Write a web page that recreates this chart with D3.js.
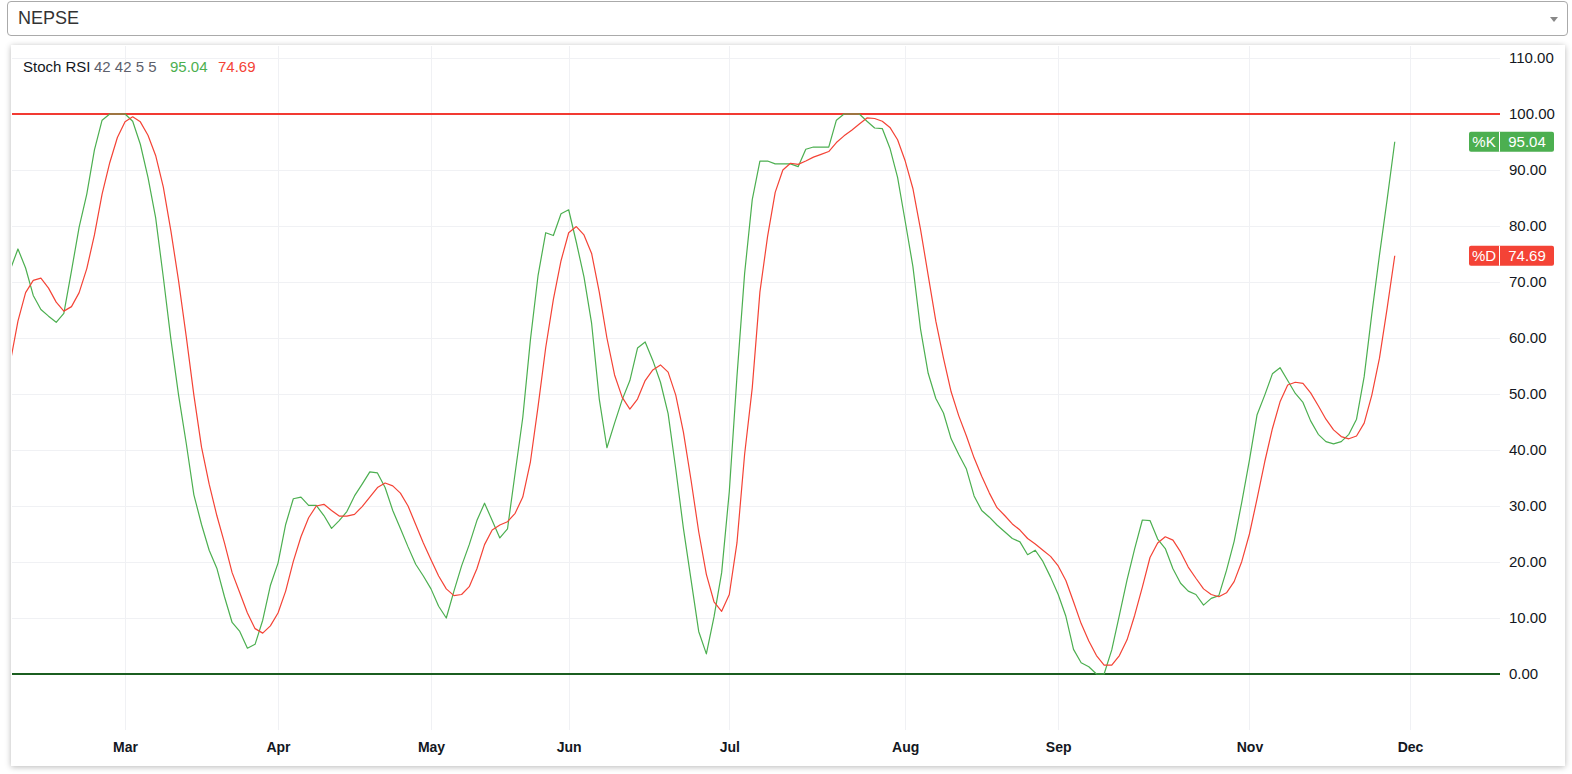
<!DOCTYPE html>
<html>
<head>
<meta charset="utf-8">
<script src="https://cdn.jsdelivr.net/npm/d3@7"></script>
<style>
  html, body { margin:0; padding:0; background:#fff; width:1572px; height:774px; overflow:hidden; }
  body { font-family: "Liberation Sans", Arial, sans-serif; position:relative; }
  #select { position:absolute; left:7px; top:1px; width:1559px; height:33px; border:1px solid #aaa; border-radius:4px; background:#fff; box-sizing:content-box; }
  #select span { position:absolute; left:10px; top:6px; font-size:18px; color:#333; }
  #select .arrow { position:absolute; right:9px; top:15px; width:0; height:0; border-left:4.5px solid transparent; border-right:4.5px solid transparent; border-top:5px solid #888; }
  #panel { position:absolute; left:11px; top:45px; width:1554px; height:721px; background:#fff; box-shadow:0 1px 6px rgba(0,0,0,0.28); }
  svg { position:absolute; left:0; top:0; }
</style>
</head>
<body>
<div id="select"><span>NEPSE</span><div class="arrow"></div></div>
<div id="panel"></div>
<svg id="chart" width="1572" height="774"></svg>
<script>
// ---- data ----
const title = "Stoch RSI";
const params = [42, 42, 5, 5];
const kValues = [
  72.2, 75.9, 72.5, 67.6, 65.1, 63.9, 62.8, 64.4, 72.0, 79.8,
  85.7, 93.6, 98.9, 100, 100, 100, 98.7, 94.6, 88.7, 81.5,
  70.9, 59.7, 49.8, 41.2, 32.0, 26.7, 22.1, 18.9, 13.8, 9.2,
  7.6, 4.6, 5.3, 9.6, 15.8, 19.8, 26.7, 31.3, 31.6, 30.1,
  30.1, 28.3, 26.0, 27.4, 29.0, 31.8, 33.9, 36.1, 35.9, 33.3,
  29.2, 26.0, 22.7, 19.6, 17.5, 15.2, 12.1, 10.0, 14.8, 19.3,
  23.1, 27.4, 30.5, 27.4, 24.3, 25.9, 35.9, 45.8, 59.7, 71.2,
  78.8, 78.3, 82.2, 82.9, 77.1, 70.9, 62.6, 49.1, 40.4, 44.8,
  49.0, 52.4, 58.2, 59.3, 56.0, 52.1, 46.5, 36.6, 26.0, 16.8,
  7.6, 3.6, 10.2, 18.1, 32.6, 53.1, 71.5, 84.7, 91.6, 91.6,
  91.1, 91.1, 91.1, 90.6, 93.7, 94.1, 94.1, 94.1, 98.9, 100,
  100, 100, 98.7, 97.5, 97.4, 93.9, 88.7, 80.8, 72.8, 61.6,
  53.7, 49.2, 46.6, 42.0, 39.2, 36.6, 31.8, 29.2, 28.0, 26.6,
  25.4, 24.2, 23.6, 21.3, 22.1, 20.1, 17.3, 14.2, 10.3, 4.4,
  2.0, 1.3, 0, 0, 4.3, 10.5, 16.8, 22.4, 27.5, 27.4,
  24.1, 22.4, 18.8, 16.2, 14.8, 14.2, 12.3, 13.5, 14.0, 18.5,
  23.7, 30.7, 38.2, 46.3, 49.8, 53.6, 54.7, 52.4, 50.1, 48.5,
  45.2, 42.8, 41.5, 41.1, 41.5, 42.8, 45.5, 53.1, 64.3, 74.8,
  84.7, 95.04
];
const dValues = [
  55.7, 63.0, 68.1, 70.3, 70.7, 68.9, 66.4, 64.8, 65.6, 68.1,
  72.4, 78.4, 85.7, 91.3, 95.8, 98.6, 99.5, 98.6, 96.2, 92.6,
  87.0, 79.1, 70.2, 60.3, 49.8, 40.5, 33.9, 28.3, 23.4, 18.1,
  14.5, 10.9, 8.1, 7.3, 8.6, 10.9, 14.8, 20.1, 24.5, 27.9,
  30.0, 30.3, 29.2, 28.2, 28.2, 28.5, 29.9, 31.6, 33.3, 34.1,
  33.6, 32.3, 30.0, 26.7, 23.4, 20.4, 17.5, 15.2, 14.0, 14.2,
  15.6, 18.8, 23.1, 25.7, 26.6, 27.2, 28.7, 31.6, 37.9, 47.8,
  58.3, 66.9, 73.8, 78.8, 79.9, 78.4, 75.1, 68.2, 60.0, 53.4,
  49.4, 47.3, 49.1, 52.4, 54.3, 55.2, 53.9, 49.8, 43.2, 34.6,
  25.4, 17.8, 12.9, 11.2, 14.2, 23.4, 39.2, 51.1, 68.2, 78.1,
  86.0, 90.0, 91.2, 91.0, 91.6, 92.3, 92.8, 93.3, 94.9, 96.1,
  97.1, 98.2, 99.3, 99.2, 98.7, 97.6, 95.4, 91.6, 86.7, 79.4,
  71.2, 63.0, 56.4, 50.4, 46.1, 42.5, 38.6, 35.3, 32.3, 29.7,
  28.3, 26.8, 25.7, 24.2, 23.2, 22.1, 21.0, 19.3, 16.7, 12.9,
  9.0, 5.9, 3.3, 1.6, 1.6, 3.3, 6.1, 10.5, 15.5, 20.8,
  23.4, 24.5, 23.9, 21.8, 19.1, 17.1, 15.2, 14.2, 13.8, 14.5,
  16.5, 20.1, 25.0, 31.3, 37.9, 43.8, 48.6, 51.6, 52.1, 51.9,
  50.2, 47.9, 45.5, 43.6, 42.4, 42.0, 42.5, 44.8, 49.8, 56.4,
  65.3, 74.69
];
const monthLabels = ["Mar", "Apr", "May", "Jun", "Jul", "Aug", "Sep", "Nov", "Dec"];
const monthIndex  = [15, 35, 55, 73, 94, 117, 137, 162, 183];
const yTicks = [0, 10, 20, 30, 40, 50, 60, 70, 80, 90, 100, 110];
const upperLevel = 100, lowerLevel = 0;

// ---- layout ----
const paneLeft = 12, paneRight = 1500, paneTop = 46, paneBottom = 730;
const kColor = "#4caf50", dColor = "#f44336";

const svg = d3.select("#chart");
const x = d3.scaleLinear().domain([0, kValues.length - 1]).range([10.3, 10.3 + 7.649 * (kValues.length - 1)]);
const y = d3.scaleLinear().domain([0, 100]).range([674, 114]);

svg.append("defs").append("clipPath").attr("id", "pane")
  .append("rect").attr("x", paneLeft).attr("y", paneTop)
  .attr("width", paneRight - paneLeft).attr("height", paneBottom - paneTop);

const grid = svg.append("g").attr("clip-path", "url(#pane)");
grid.selectAll("line.h").data(yTicks).join("line")
  .attr("x1", paneLeft).attr("x2", paneRight)
  .attr("y1", d => Math.round(y(d)) + 0.5).attr("y2", d => Math.round(y(d)) + 0.5)
  .attr("stroke", "#f0f1f4").attr("stroke-width", 1);
grid.selectAll("line.v").data(monthIndex).join("line")
  .attr("x1", d => Math.round(x(d)) + 0.5).attr("x2", d => Math.round(x(d)) + 0.5)
  .attr("y1", paneTop).attr("y2", paneBottom)
  .attr("stroke", "#f0f1f4").attr("stroke-width", 1);

// level lines
const levels = svg.append("g").attr("clip-path", "url(#pane)");
levels.append("line").attr("x1", paneLeft).attr("x2", paneRight)
  .attr("y1", y(upperLevel)).attr("y2", y(upperLevel))
  .attr("stroke", "#f23a32").attr("stroke-width", 2);
levels.append("line").attr("x1", paneLeft).attr("x2", paneRight)
  .attr("y1", y(lowerLevel)).attr("y2", y(lowerLevel))
  .attr("stroke", "#1b5e20").attr("stroke-width", 2);

// series
const line = d3.line().x((d, i) => x(i)).y(d => y(d));
const series = svg.append("g").attr("clip-path", "url(#pane)");
series.append("path").datum(kValues).attr("d", line)
  .attr("fill", "none").attr("stroke", kColor).attr("stroke-width", 1.2).attr("stroke-linejoin", "round");
series.append("path").datum(dValues).attr("d", line)
  .attr("fill", "none").attr("stroke", dColor).attr("stroke-width", 1.2).attr("stroke-linejoin", "round");

// price axis
const yAxis = d3.axisRight(y).tickValues(yTicks).tickFormat(d3.format(".2f")).tickSize(0).tickPadding(9);
const ya = svg.append("g").attr("transform", `translate(${paneRight},0)`).call(yAxis);
ya.select(".domain").remove();
ya.selectAll("text").attr("font-size", 15).attr("fill", "#131722")
  .attr("font-family", '"Liberation Sans", Arial, sans-serif');

// time axis
const xAxis = d3.axisBottom(x).tickValues(monthIndex).tickFormat((d, i) => monthLabels[i]).tickSize(0).tickPadding(12);
const xa = svg.append("g").attr("transform", `translate(0,${paneBottom})`).call(xAxis);
xa.select(".domain").remove();
xa.selectAll("text").attr("font-size", 14).attr("font-weight", "bold").attr("fill", "#131722")
  .attr("font-family", '"Liberation Sans", Arial, sans-serif');

// last value labels
function valueLabel(name, val, color) {
  const cy = y(val);
  const g = svg.append("g");
  g.append("rect").attr("x", 1469).attr("y", cy - 10).attr("width", 85).attr("height", 20)
    .attr("rx", 2).attr("fill", color);
  g.append("line").attr("x1", 1499.5).attr("x2", 1499.5).attr("y1", cy - 10).attr("y2", cy + 10)
    .attr("stroke", "#fff").attr("stroke-width", 1);
  g.append("text").attr("x", 1484).attr("y", cy + 5.5).attr("text-anchor", "middle")
    .attr("font-size", 15).attr("fill", "#fff").text(name);
  g.append("text").attr("x", 1527).attr("y", cy + 5.5).attr("text-anchor", "middle")
    .attr("font-size", 15).attr("fill", "#fff").text(d3.format(".2f")(val));
}
valueLabel("%K", kValues[kValues.length - 1], kColor);
valueLabel("%D", dValues[dValues.length - 1], dColor);

// legend
const legend = svg.append("text").attr("y", 72).attr("font-size", 15);
legend.append("tspan").attr("x", 23).attr("fill", "#131722").text(title);
legend.append("tspan").attr("x", 94).attr("fill", "#5d606b").text(params.join(" "));
legend.append("tspan").attr("x", 170).attr("fill", kColor).text(d3.format(".2f")(kValues[kValues.length - 1]));
legend.append("tspan").attr("x", 218).attr("fill", dColor).text(d3.format(".2f")(dValues[dValues.length - 1]));
</script>
</body>
</html>
